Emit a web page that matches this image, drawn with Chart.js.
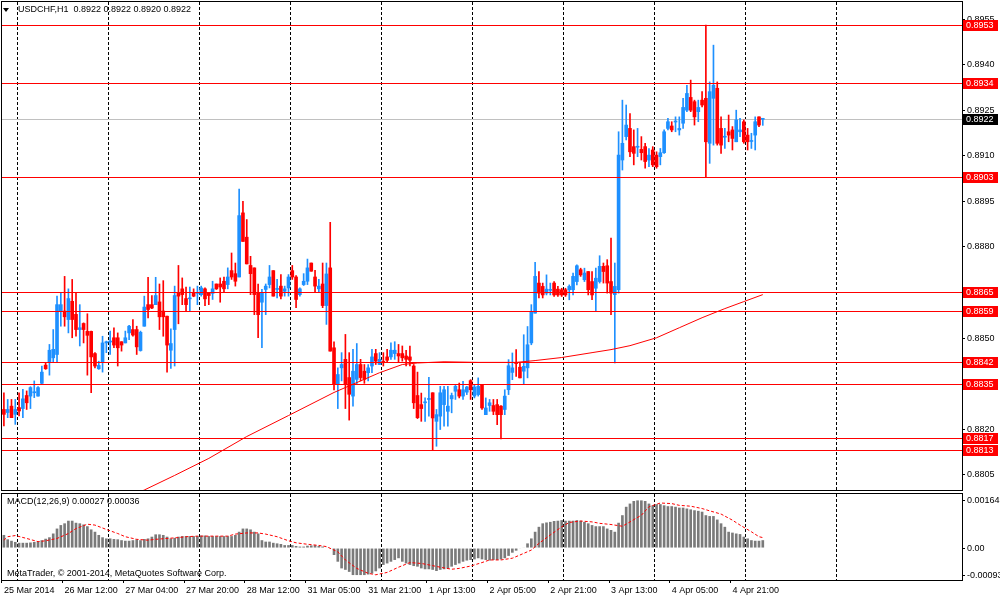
<!DOCTYPE html>
<html>
<head>
<meta charset="utf-8">
<script src="https://cdn.jsdelivr.net/npm/chart.js@4.4.1/dist/chart.umd.min.js"></script>
<style>
    body { margin: 0; background: #ffffff; width: 1000px; height: 598px; overflow: hidden; position: relative; }
    #priceChart { position: absolute; left: 0; top: 0; }
    #macdChart { position: absolute; left: 0; top: 492px; }
</style>
</head>
<body>
<canvas id="priceChart" width="1000" height="492"></canvas>
<canvas id="macdChart" width="1000" height="106"></canvas>
<script>
// USDCHF H1 candles (bar 0 = left edge)
const opens = [
    0.88265, 0.88255, 0.88276, 0.88249, 0.88271, 0.88268, 0.88311, 0.88309, 0.8832, 0.88309,
    0.88351, 0.88411, 0.88419, 0.88435, 0.88446, 0.88589, 0.88589, 0.88561, 0.88621, 0.88578,
    0.88528, 0.88548, 0.88522, 0.88522, 0.88449, 0.88399, 0.88419, 0.88484, 0.88487, 0.88501,
    0.88501, 0.88488, 0.88484, 0.88517, 0.88528, 0.88528, 0.88459, 0.88539, 0.8861, 0.8861,
    0.8861, 0.88619, 0.88589, 0.88572, 0.8846, 0.88528, 0.88649, 0.88662, 0.8863, 0.88629,
    0.88649, 0.88647, 0.88643, 0.88662, 0.88649, 0.88647, 0.88678, 0.88678, 0.88687, 0.88676,
    0.88722, 0.88712, 0.88701, 0.88912, 0.88832, 0.88739, 0.88731, 0.88649, 0.88618, 0.8866,
    0.88676, 0.88722, 0.8866, 0.88671, 0.88654, 0.88665, 0.88722, 0.88701, 0.88643, 0.88676,
    0.88687, 0.88747, 0.88701, 0.88662, 0.88678, 0.88607, 0.88731, 0.88468, 0.88348, 0.88402,
    0.8843, 0.8837, 0.88309, 0.88364, 0.88413, 0.88391, 0.88386, 0.88408, 0.88449, 0.88413,
    0.88423, 0.88438, 0.88438, 0.88449, 0.88449, 0.88449, 0.88441, 0.88438, 0.88408, 0.88311,
    0.88281, 0.88287, 0.88298, 0.8832, 0.88226, 0.88243, 0.88281, 0.88259, 0.883, 0.88325,
    0.8833, 0.88309, 0.88322, 0.8836, 0.88309, 0.88314, 0.88347, 0.88248, 0.88278, 0.88278,
    0.88281, 0.88276, 0.88265, 0.8833, 0.88387, 0.8842, 0.88404, 0.88391, 0.88402, 0.88484,
    0.88582, 0.88681, 0.8867, 0.88648, 0.88657, 0.88681, 0.88661, 0.88659, 0.88659, 0.88659,
    0.88659, 0.88686, 0.88725, 0.88692, 0.88719, 0.88686, 0.88664,
    0.88686, 0.88736, 0.88738, 0.88686, 0.88643, 0.88659, 0.89086, 0.89163, 0.8919, 0.8913,
    0.89128, 0.89121, 0.8913, 0.89086, 0.89119, 0.89102, 0.89097, 0.8911, 0.8919, 0.89198,
    0.89211, 0.89185, 0.89207, 0.8925, 0.89292, 0.89278, 0.89245, 0.89283, 0.89289, 0.89141,
    0.89289, 0.89322, 0.8919, 0.89161, 0.89179, 0.89185, 0.89146, 0.89179, 0.89212, 0.89168,
    0.89147, 0.89168, 0.89228, 0.8922
];
const highs = [
    0.8832, 0.88298, 0.88298, 0.88298, 0.8832, 0.88331, 0.88326, 0.8834, 0.88359, 0.8834,
    0.88408, 0.88419, 0.88479, 0.88528, 0.88638, 0.88649, 0.88703, 0.88662, 0.88693, 0.88649,
    0.8861, 0.8855, 0.8858, 0.88523, 0.88452, 0.88424, 0.88506, 0.8849, 0.88523, 0.88534,
    0.88517, 0.88488, 0.88523, 0.88542, 0.88561, 0.88539, 0.88523, 0.88638, 0.887, 0.8864,
    0.887, 0.88678, 0.88689, 0.88572, 0.8853, 0.88671, 0.88739, 0.88698, 0.88668, 0.88668,
    0.88662, 0.88671, 0.88671, 0.88665, 0.88649, 0.88687, 0.88678, 0.88698, 0.88701, 0.88731,
    0.8878, 0.88747, 0.8899, 0.8895, 0.8889, 0.88769, 0.88731, 0.88678, 0.8866, 0.88678,
    0.88739, 0.88722, 0.88693, 0.88709, 0.88671, 0.88709, 0.88739, 0.88706, 0.88665, 0.88712,
    0.8876, 0.88747, 0.88723, 0.88693, 0.88747, 0.88747, 0.88881, 0.88488, 0.88402, 0.88452,
    0.88512, 0.88452, 0.88463, 0.88482, 0.8843, 0.88413, 0.88413, 0.88463, 0.88463, 0.88452,
    0.88452, 0.88463, 0.88484, 0.88488, 0.88479, 0.88474, 0.8846, 0.88474, 0.88413, 0.88388,
    0.88319, 0.88303, 0.88371, 0.8832, 0.88265, 0.88341, 0.88341, 0.88341, 0.88319, 0.88347,
    0.88352, 0.88358, 0.88341, 0.88363, 0.88347, 0.88369, 0.88347, 0.88303, 0.88298, 0.88298,
    0.88298, 0.88278, 0.8833, 0.88429, 0.88451, 0.88462, 0.88418, 0.88511, 0.88538, 0.8861,
    0.88749, 0.88719, 0.88681, 0.88708, 0.88681, 0.88686, 0.8867, 0.88664, 0.88664, 0.88675,
    0.88714, 0.88741, 0.8873, 0.8873, 0.88719, 0.88719, 0.8873,
    0.88771, 0.88747, 0.88758, 0.88829, 0.88747, 0.89179, 0.89283, 0.89267, 0.89239, 0.89185,
    0.8919, 0.89163, 0.89141, 0.89124, 0.8913, 0.89113, 0.89124, 0.89185, 0.89223, 0.89212,
    0.89228, 0.89228, 0.89289, 0.89332, 0.89349, 0.89283, 0.89283, 0.89311, 0.8953, 0.89343,
    0.89464, 0.89343, 0.89228, 0.8919, 0.89234, 0.89196, 0.8925, 0.89223, 0.89218, 0.8919,
    0.89174, 0.89228, 0.89228, 0.8922
];
const lows = [
    0.88211, 0.88238, 0.88238, 0.88216, 0.88244, 0.88238, 0.88265, 0.88268, 0.88304, 0.88309,
    0.88348, 0.88397, 0.88378, 0.88419, 0.88419, 0.88539, 0.88539, 0.88517, 0.88501, 0.88506,
    0.88474, 0.88484, 0.88378, 0.8832, 0.88402, 0.88397, 0.88388, 0.88452, 0.88446, 0.88468,
    0.88408, 0.88457, 0.88484, 0.88495, 0.88506, 0.88446, 0.88457, 0.88539, 0.88566, 0.88597,
    0.8861, 0.88528, 0.88506, 0.88388, 0.884, 0.88408, 0.88547, 0.8861, 0.88589, 0.88589,
    0.88636, 0.8861, 0.88638, 0.88607, 0.8861, 0.88627, 0.8866, 0.88618, 0.88649, 0.88662,
    0.88693, 0.88671, 0.88701, 0.88818, 0.88744, 0.88643, 0.88577, 0.88501, 0.88468, 0.88577,
    0.88665, 0.88638, 0.88632, 0.88629, 0.88638, 0.88638, 0.88693, 0.886, 0.88638, 0.88673,
    0.88676, 0.8872, 0.88649, 0.88649, 0.886, 0.88545, 0.88457, 0.88329, 0.88268, 0.88359,
    0.88268, 0.8823, 0.88276, 0.88348, 0.88359, 0.88351, 0.88359, 0.88386, 0.88413, 0.88413,
    0.88408, 0.88421, 0.8843, 0.8843, 0.88419, 0.88424, 0.88408, 0.88408, 0.88268, 0.88235,
    0.88226, 0.88226, 0.88243, 0.88131, 0.88144, 0.88199, 0.8821, 0.8821, 0.88254, 0.88298,
    0.88303, 0.88298, 0.88314, 0.88298, 0.88303, 0.88309, 0.88265, 0.88248, 0.88259, 0.88248,
    0.88215, 0.88168, 0.88248, 0.88314, 0.88363, 0.88374, 0.88369, 0.88347, 0.88369, 0.88478,
    0.88582, 0.88632, 0.88632, 0.88642, 0.88642, 0.88637, 0.88637, 0.88637, 0.88637, 0.88626,
    0.88642, 0.88675, 0.88703, 0.88686, 0.88642, 0.88626, 0.88588,
    0.88681, 0.88681, 0.88648, 0.88577, 0.88418, 0.88648, 0.89053, 0.89152, 0.89097, 0.8907,
    0.89097, 0.89086, 0.89059, 0.89064, 0.89064, 0.89059, 0.8907, 0.89108, 0.89185, 0.89179,
    0.89179, 0.89168, 0.8919, 0.89245, 0.89245, 0.89201, 0.89212, 0.89261, 0.89031, 0.89075,
    0.89135, 0.89135, 0.89108, 0.89124, 0.89146, 0.89119, 0.89146, 0.89163, 0.89141, 0.89119,
    0.89124, 0.89119, 0.89196, 0.892
];
const closes = [
    0.88249, 0.88265, 0.88238, 0.88265, 0.8826, 0.883, 0.88287, 0.88337, 0.88323, 0.88337,
    0.88388, 0.88399, 0.8846, 0.88463, 0.8861, 0.8861, 0.8857, 0.8863, 0.88561, 0.88528,
    0.88534, 0.88528, 0.88509, 0.88438, 0.88408, 0.8841, 0.88484, 0.88488, 0.8849, 0.88477,
    0.88468, 0.88477, 0.88501, 0.88539, 0.8851, 0.88471, 0.88519, 0.88602, 0.88594, 0.88599,
    0.8864, 0.8857, 0.8857, 0.88477, 0.88482, 0.8864, 0.88638, 0.88643, 0.8861, 0.88632,
    0.88638, 0.88649, 0.88665, 0.88629, 0.8864, 0.88662, 0.88662, 0.88668, 0.88662, 0.88701,
    0.88701, 0.88687, 0.88903, 0.88818, 0.88744, 0.88712, 0.88643, 0.88577, 0.88649, 0.88671,
    0.88701, 0.88638, 0.88663, 0.88638, 0.88662, 0.88701, 0.88701, 0.88627, 0.88662, 0.88687,
    0.88731, 0.8872, 0.88671, 0.88671, 0.88607, 0.88711, 0.88457, 0.88348, 0.8838, 0.88413,
    0.88348, 0.88315, 0.88391, 0.88413, 0.8837, 0.88364, 0.88402, 0.88438, 0.88424, 0.8843,
    0.8842, 0.88427, 0.8846, 0.8846, 0.88441, 0.88435, 0.8843, 0.88427, 0.88287, 0.88238,
    0.88268, 0.88289, 0.883, 0.88237, 0.88248, 0.8832, 0.8833, 0.88276, 0.88311, 0.88341,
    0.88309, 0.8833, 0.88339, 0.8833, 0.88339, 0.88341, 0.8827, 0.8827, 0.88287, 0.88259,
    0.88248, 0.88248, 0.88309, 0.88409, 0.88402, 0.88416, 0.88369, 0.88407, 0.88478, 0.88588,
    0.88703, 0.88648, 0.88642, 0.88661, 0.8866, 0.88642, 0.88642, 0.88642, 0.88642, 0.8867,
    0.88703, 0.88738, 0.88708, 0.88714, 0.88659, 0.88642, 0.88697,
    0.88736, 0.88719, 0.88681, 0.88648, 0.8867, 0.89102, 0.89141, 0.89201, 0.89113, 0.89108,
    0.89131, 0.8911, 0.89081, 0.89102, 0.8907, 0.89064, 0.8911, 0.89179, 0.89212, 0.89185,
    0.89213, 0.8919, 0.89259, 0.89305, 0.8925, 0.89228, 0.89259, 0.89267, 0.89146, 0.89311,
    0.89332, 0.89141, 0.89135, 0.89164, 0.89168, 0.89157, 0.89218, 0.89185, 0.89146, 0.89146,
    0.8915, 0.89212, 0.89201, 0.8922
];

// red moving average, read at a few bars
const maIndex = [30, 37, 45, 54, 64, 75, 87, 99, 105, 109, 116, 125, 135, 140, 147, 155, 160, 165, 172, 178, 184, 190, 195, 200];
const maValue = [0.8796, 0.88, 0.88048, 0.88104, 0.88176, 0.88245, 0.88321, 0.88386, 0.88413, 0.88418, 0.88422, 0.8842, 0.8842,
    0.88426, 0.88436, 0.88452, 0.88462, 0.88475, 0.88501, 0.88534, 0.88567, 0.88597, 0.8862, 0.88643];

// horizontal levels and the bid line
const levels = [0.8953, 0.8934, 0.8903, 0.8865, 0.8859, 0.8842, 0.8835, 0.8817, 0.8813];
const bidPrice = 0.8922;
const priceTicks = [0.8805, 0.882, 0.8835, 0.885, 0.8865, 0.888, 0.8895, 0.891, 0.8925, 0.894, 0.8955];
const priceRange = [0.88, 0.89606];

// MACD(12,26,9) histogram per bar and the signal line at a few bars
const macdHist = [
    0.00045, 0.0003, 0.00025, 0.00021, 0.00018, 0.00018, 0.00018, 0.00019, 0.00021, 0.00022,
    0.00027, 0.00032, 0.00037, 0.0005, 0.00067, 0.00079, 0.00085, 0.00094, 0.00094, 0.00087,
    0.00085, 0.00081, 0.00075, 0.00064, 0.00056, 0.00045, 0.00037, 0.00033, 0.00033, 0.00031,
    0.0003, 0.00027, 0.00025, 0.00025, 0.00027, 0.0003, 0.00027, 0.00031, 0.00033, 0.00039,
    0.00047, 0.00047, 0.00045, 0.00039, 0.00033, 0.00035, 0.00039, 0.00041, 0.00041, 0.00041,
    0.00041, 0.00041, 0.00043, 0.00043, 0.00041, 0.00041, 0.00041, 0.00041, 0.00041, 0.00041,
    0.00041, 0.00045, 0.00056, 0.00067, 0.00067, 0.00064, 0.00056, 0.0005, 0.00027, 0.00022,
    0.00022, 0.00018, 0.00016, 0.00014, 0.0001, 0.0001, 0.0001, 0.00007, 0.00005, 0.00005,
    0.00008, 0.00009, 0.0001, 0.00007, 0.00005, 0.00002, -0.00002, -0.00024, -0.00047, -0.0007,
    -0.00075, -0.00082, -0.00093, -0.00093, -0.00093, -0.00093, -0.00091, -0.00088, -0.0008, -0.0007,
    -0.00058, -0.00053, -0.00047, -0.00041, -0.00035,
    -0.00047, -0.00053, -0.00058, -0.00062, -0.00064, -0.0007, -0.00073, -0.00073, -0.00075, -0.00079,
    -0.00075, -0.00073, -0.00071, -0.00064, -0.00058, -0.00053, -0.00047, -0.00043, -0.00041, -0.00039,
    -0.00035, -0.00039, -0.00041, -0.00043, -0.00041, -0.00041, -0.00039, -0.00035, -0.00027, -0.00016,
    -0.00009, -0.00002, 0.00002, 0.00016, 0.00033, 0.00056, 0.00073, 0.00085, 0.00088, 0.0009,
    0.00093, 0.00094, 0.00096, 0.00094, 0.00094, 0.00094, 0.00096, 0.00094, 0.0009, 0.00085,
    0.00079, 0.00075, 0.00075, 0.00075, 0.00067, 0.00062, 0.00056, 0.00087, 0.00113, 0.00142,
    0.00153, 0.00162, 0.00164, 0.00164, 0.00162, 0.00153, 0.00147, 0.00151, 0.00151, 0.00147,
    0.00144, 0.00144, 0.00142, 0.00139, 0.00139, 0.00136, 0.00133, 0.0013, 0.00128, 0.00125,
    0.00113, 0.0011, 0.0011, 0.00098, 0.00085, 0.00073, 0.00056, 0.00053, 0.0005, 0.00048,
    0.00039, 0.00033, 0.00027, 0.00025, 0.00025, 0.00027
];
const signalIndex = [0, 1, 3, 6, 9, 11, 14, 17, 19, 22, 24, 27, 30, 32, 35, 38, 40, 43, 46, 48,
    51, 56, 59, 61, 64, 67, 69, 72, 75, 77, 80, 83, 85, 88, 90, 93, 96, 98, 101, 104,
    107, 110, 112, 115, 118, 120, 123, 126, 128, 131, 134, 136, 139, 141, 144, 147, 149, 152, 155, 157,
    160, 163, 165, 168, 170, 173, 176, 178, 181, 184, 186, 189, 192, 194, 197, 199, 200];
const signalValue = [0.00027, 0.00039, 0.00043, 0.00033, 0.00022, 0.00025, 0.00033, 0.0005, 0.00067, 0.00082,
    0.00079, 0.00064, 0.0005, 0.00039, 0.0003, 0.00027, 0.0003, 0.00033, 0.00036, 0.00039,
    0.00041, 0.00041, 0.00041, 0.00048, 0.00052, 0.00052, 0.00048, 0.00039, 0.00025, 0.00018,
    0.00013, 0.00009, 0.00005, -0.00013, -0.00041, -0.0007, -0.00087, -0.00092, -0.00084, -0.00066,
    -0.0005, -0.00053, -0.00058, -0.00066, -0.00073, -0.0007, -0.00062, -0.0005, -0.00041, -0.00041,
    -0.00035, -0.00024, -0.00007, 0.00016, 0.00045, 0.00073, 0.00088, 0.00093, 0.0009, 0.00085,
    0.00081, 0.00075, 0.0009, 0.00113, 0.00142, 0.00155, 0.00153, 0.00147, 0.00144, 0.00136,
    0.00128, 0.00117, 0.00096, 0.00079, 0.00056, 0.00039, 0.00036];
const macdTicks = [-0.00093, 0, 0.00164];
const macdRange = [-0.0011, 0.00186];

// time axis: a label every 16 bars, a dashed separator every 24 bars
const timeLabels = ['25 Mar 2014', '26 Mar 12:00', '27 Mar 04:00', '27 Mar 20:00', '28 Mar 12:00', '31 Mar 05:00',
    '31 Mar 21:00', '1 Apr 13:00', '2 Apr 05:00', '2 Apr 21:00', '3 Apr 13:00', '4 Apr 05:00', '4 Apr 21:00'];
const timeLabelStep = 16;
const gridIndex = [4, 28, 52, 76, 100, 124, 148, 172, 196, 220];
const slotCount = 253;

const upColor = '#1e90ff';
const downColor = '#ff0000';
const axisFont = { family: 'Liberation Sans', size: 9 };

Chart.defaults.font.family = 'Liberation Sans';
Chart.defaults.font.size = 9;
Chart.defaults.color = '#000000';

window.onload = function () {
    drawPriceChart();
    drawMacdChart();
};

function slotLabels() {
    var arr = [];
    for (var i = 0; i < slotCount; i++) {
        arr.push(i);
    }
    return arr;
}

function sparse(idx, vals) {
    var arr = new Array(slotCount).fill(null);
    idx.forEach(function (k, j) {
        arr[k] = vals[j];
    });
    return arr;
}

function candleColor(ctx) {
    var i = ctx.dataIndex;
    return closes[i] >= opens[i] ? upColor : downColor;
}

function gridColor(ctx) {
    return gridIndex.indexOf(ctx.index) >= 0 ? '#000000' : 'rgba(0,0,0,0)';
}

function timeTickColor(ctx) {
    var k = ctx.index / timeLabelStep;
    return (Number.isInteger(k) && k < timeLabels.length) ? '#000000' : 'rgba(0,0,0,0)';
}

// no extra room for the end labels, the plot area is fixed like in the terminal
function noPadding(scale) {
    scale.paddingTop = 0;
    scale.paddingBottom = 0;
    scale.paddingLeft = 0;
    scale.paddingRight = 0;
}

function hLine(ctx, area, y, color) {
    ctx.strokeStyle = color;
    ctx.lineWidth = 1;
    ctx.beginPath();
    ctx.moveTo(area.left, y);
    ctx.lineTo(area.right, y);
    ctx.stroke();
}

function axisBox(ctx, y, text, color) {
    ctx.fillStyle = color;
    ctx.fillRect(963, y - 5, 35, 11);
    ctx.fillStyle = '#ffffff';
    ctx.font = '9px "Liberation Sans"';
    ctx.textAlign = 'left';
    ctx.textBaseline = 'middle';
    ctx.fillText(text, 966, y + 0.5);
}

const priceOverlay = {
    id: 'priceOverlay',
    beforeDatasetsDraw: function (chart) {
        var ctx = chart.ctx;
        var y = Math.round(chart.scales.y.getPixelForValue(bidPrice)) + 0.5;
        ctx.save();
        hLine(ctx, chart.chartArea, y, '#c0c0c0');
        ctx.restore();
    },
    afterDatasetsDraw: function (chart) {
        var ctx = chart.ctx;
        var area = chart.chartArea;
        ctx.save();
        levels.forEach(function (v) {
            var y = Math.round(chart.scales.y.getPixelForValue(v)) + 0.5;
            hLine(ctx, area, y, '#ff0000');
        });
        ctx.strokeStyle = '#000000';
        ctx.strokeRect(area.left - 0.5, area.top - 0.5, area.right - area.left + 1, area.bottom - area.top + 1);
        // header
        ctx.fillStyle = '#000000';
        ctx.beginPath();
        ctx.moveTo(3, 8);
        ctx.lineTo(9, 8);
        ctx.lineTo(6, 12);
        ctx.closePath();
        ctx.fill();
        ctx.font = '9px "Liberation Sans"';
        ctx.textBaseline = 'middle';
        ctx.fillText('USDCHF,H1  0.8922 0.8922 0.8920 0.8922', 18, 10);
        ctx.restore();
    },
    afterDraw: function (chart) {
        var ctx = chart.ctx;
        ctx.save();
        levels.forEach(function (v) {
            var y = Math.round(chart.scales.y.getPixelForValue(v));
            axisBox(ctx, y, v.toFixed(4), '#ff0000');
        });
        axisBox(ctx, Math.round(chart.scales.y.getPixelForValue(bidPrice)), bidPrice.toFixed(4), '#000000');
        ctx.restore();
    }
};

const macdOverlay = {
    id: 'macdOverlay',
    afterDatasetsDraw: function (chart) {
        var ctx = chart.ctx;
        var area = chart.chartArea;
        ctx.save();
        ctx.strokeStyle = '#000000';
        ctx.lineWidth = 1;
        ctx.strokeRect(area.left - 0.5, area.top - 0.5, area.right - area.left + 1, area.bottom - area.top + 1);
        ctx.fillStyle = '#000000';
        ctx.font = '9px "Liberation Sans"';
        ctx.textBaseline = 'middle';
        ctx.fillText('MACD(12,26,9) 0.00027 0.00036', 7, 10);
        ctx.fillText('MetaTrader, \u00a9 2001-2014, MetaQuotes Software Corp.', 7, 82);
        ctx.restore();
    }
};

function drawPriceChart() {
    const ctx = document.getElementById('priceChart');
    var wickData = lows.map(function (l, i) { return [l, highs[i]]; });
    var bodyData = opens.map(function (o, i) { return [o, closes[i]]; });

    new Chart(ctx, {
        type: 'bar',
        data: {
            labels: slotLabels(),
            datasets: [{
                type: 'line',
                data: sparse(maIndex, maValue),
                borderColor: '#ff0000',
                borderWidth: 1,
                pointRadius: 0,
                spanGaps: true,
                order: 0
            }, {
                data: bodyData,
                backgroundColor: candleColor,
                borderWidth: 0,
                barThickness: 3,
                minBarLength: 1,
                grouped: false,
                order: 1
            }, {
                data: wickData,
                backgroundColor: candleColor,
                borderWidth: 0,
                barThickness: 1,
                grouped: false,
                order: 2
            }]
        },
        options: {
            responsive: false,
            animation: false,
            events: [],
            layout: { padding: { left: 2, top: 2, right: 0, bottom: 2 } },
            plugins: {
                legend: { display: false },
                tooltip: { enabled: false }
            },
            scales: {
                x: {
                    offset: true,
                    ticks: { display: false },
                    grid: { color: gridColor, offset: true, drawTicks: false },
                    border: { display: false, dash: [3, 2] },
                    afterFit: function (scale) {
                        noPadding(scale);
                        scale.height = 0;
                    }
                },
                y: {
                    position: 'right',
                    min: priceRange[0],
                    max: priceRange[1],
                    afterBuildTicks: function (scale) {
                        scale.ticks = priceTicks.map(function (v) { return { value: v }; });
                    },
                    ticks: {
                        font: axisFont,
                        color: '#000000',
                        padding: 2,
                        callback: function (v) { return Number(v).toFixed(4); }
                    },
                    grid: { drawOnChartArea: false, drawTicks: true, tickLength: 3, tickColor: '#000000' },
                    border: { display: false },
                    afterFit: function (scale) {
                        noPadding(scale);
                        scale.width = 38;
                    }
                }
            }
        },
        plugins: [priceOverlay]
    });
}

function drawMacdChart() {
    const ctx = document.getElementById('macdChart');

    new Chart(ctx, {
        type: 'bar',
        data: {
            labels: slotLabels(),
            datasets: [{
                type: 'line',
                data: sparse(signalIndex, signalValue),
                borderColor: '#ff0000',
                borderWidth: 1,
                borderDash: [3, 2],
                pointRadius: 0,
                spanGaps: true,
                order: 0
            }, {
                data: macdHist,
                backgroundColor: '#7a7a7a',
                borderWidth: 0,
                barPercentage: 0.7,
                categoryPercentage: 1,
                order: 1
            }]
        },
        options: {
            responsive: false,
            animation: false,
            events: [],
            layout: { padding: { left: 2, top: 2, right: 0, bottom: 0 } },
            plugins: {
                legend: { display: false },
                tooltip: { enabled: false }
            },
            scales: {
                x: {
                    offset: true,
                    ticks: {
                        autoSkip: false,
                        maxRotation: 0,
                        minRotation: 0,
                        align: 'start',
                        padding: 2,
                        font: axisFont,
                        color: '#000000',
                        callback: function (value, index) {
                            var k = index / timeLabelStep;
                            return (Number.isInteger(k) && k < timeLabels.length) ? timeLabels[k] : '';
                        }
                    },
                    grid: { color: gridColor, offset: true, drawTicks: true, tickLength: 3, tickColor: timeTickColor },
                    border: { display: false, dash: [3, 2] },
                    afterFit: function (scale) {
                        noPadding(scale);
                        scale.height = 18;
                    }
                },
                y: {
                    position: 'right',
                    min: macdRange[0],
                    max: macdRange[1],
                    afterBuildTicks: function (scale) {
                        scale.ticks = macdTicks.map(function (v) { return { value: v }; });
                    },
                    ticks: {
                        font: axisFont,
                        color: '#000000',
                        padding: 2,
                        callback: function (v) { return v === 0 ? '0.00' : Number(v).toFixed(5); }
                    },
                    grid: { drawOnChartArea: false, drawTicks: true, tickLength: 3, tickColor: '#000000' },
                    border: { display: false },
                    afterFit: function (scale) {
                        noPadding(scale);
                        scale.width = 38;
                    }
                }
            }
        },
        plugins: [macdOverlay]
    });
}
</script>
</body>
</html>
